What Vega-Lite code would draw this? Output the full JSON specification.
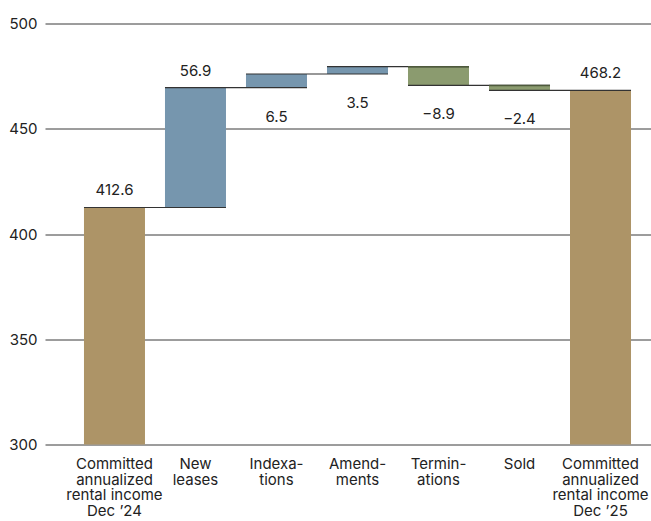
{
  "$schema": "https://vega.github.io/schema/vega-lite/v6.json",
  "width": 606,
  "height": 421,
  "autosize": {"type": "none"},
  "padding": {"left": 45, "top": 23.5, "right": 0, "bottom": 76.5},
  "background": "white",
  "config": {"view": {"stroke": null}, "font": "Inter"},
  "datasets": {
    "bars": [
      {"cat": "Committed|annualized|rental income|Dec ’24", "kind": "total", "lo": 0, "hi": 412.6, "label": "412.6"},
      {"cat": "New|leases", "kind": "up", "lo": 412.6, "hi": 469.5, "label": "56.9"},
      {"cat": "Indexa-|tions", "kind": "up", "lo": 469.5, "hi": 476.0, "label": "6.5"},
      {"cat": "Amend-|ments", "kind": "up", "lo": 476.0, "hi": 479.5, "label": "3.5"},
      {"cat": "Termin-|ations", "kind": "down", "lo": 470.6, "hi": 479.5, "label": "−8.9"},
      {"cat": "Sold", "kind": "down", "lo": 468.2, "hi": 470.6, "label": "−2.4"},
      {"cat": "Committed|annualized|rental income|Dec ’25", "kind": "total", "lo": 0, "hi": 468.2, "label": "468.2"}
    ],
    "links": [
      {"from": "Committed|annualized|rental income|Dec ’24", "to": "New|leases", "level": 412.6},
      {"from": "New|leases", "to": "Indexa-|tions", "level": 469.5},
      {"from": "Indexa-|tions", "to": "Amend-|ments", "level": 476.0},
      {"from": "Amend-|ments", "to": "Termin-|ations", "level": 479.5},
      {"from": "Termin-|ations", "to": "Sold", "level": 470.6},
      {"from": "Sold", "to": "Committed|annualized|rental income|Dec ’25", "level": 468.2}
    ]
  },
  "encoding": {
    "x": {
      "field": "cat",
      "type": "nominal",
      "scale": {
        "domain": [
          "Committed|annualized|rental income|Dec ’24",
          "New|leases",
          "Indexa-|tions",
          "Amend-|ments",
          "Termin-|ations",
          "Sold",
          "Committed|annualized|rental income|Dec ’25"
        ],
        "paddingInner": 0.2469,
        "paddingOuter": 0.364,
        "align": 0.661,
        "round": false
      },
      "axis": {
        "title": null,
        "domain": false,
        "ticks": false,
        "labelAngle": 0,
        "labelAlign": "center",
        "labelBaseline": "top",
        "labelExpr": "split(datum.label, '|')",
        "labelFontSize": 15,
        "labelLineHeight": 15.5,
        "labelPadding": 12,
        "labelColor": "#222222",
        "labelLimit": 0
      }
    }
  },
  "layer": [
    {
      "data": {"name": "bars"},
      "mark": {"type": "bar", "clip": true},
      "encoding": {
        "y": {
          "field": "hi",
          "type": "quantitative",
          "scale": {"domain": [300, 500], "nice": false, "zero": false},
          "axis": {
            "title": null,
            "values": [300, 350, 400, 450, 500],
            "domain": false,
            "ticks": false,
            "grid": true,
            "gridColor": "#3a3a3a",
            "gridWidth": 1,
            "gridOpacity": 1,
            "labelFontSize": 15,
            "labelColor": "#222222",
            "labelPadding": 8
          }
        },
        "y2": {"field": "lo"},
        "color": {
          "field": "kind",
          "type": "nominal",
          "scale": {"domain": ["total", "up", "down"], "range": ["#AD9467", "#7696AE", "#8B9B6F"]},
          "legend": null
        }
      }
    },
    {
      "data": {"name": "links"},
      "mark": {"type": "rule", "color": "#333333", "strokeWidth": 1.2},
      "encoding": {
        "x": {"field": "from", "type": "nominal", "bandPosition": 0},
        "x2": {"field": "to", "bandPosition": 1},
        "y": {"field": "level", "type": "quantitative"}
      }
    },
    {
      "data": {"name": "bars"},
      "transform": [{"filter": "datum.kind == 'down'"}],
      "mark": {"type": "rule", "color": "#4E5A3C", "strokeWidth": 1.5},
      "encoding": {
        "x": {"field": "cat", "type": "nominal", "bandPosition": 0},
        "x2": {"field": "cat", "bandPosition": 1},
        "y": {"field": "hi", "type": "quantitative"}
      }
    },
    {
      "data": {"name": "bars"},
      "transform": [{"filter": "datum.hi - datum.lo > 20"}],
      "mark": {"type": "text", "fontSize": 15, "color": "#222222", "baseline": "middle", "dy": -17},
      "encoding": {
        "y": {"field": "hi", "type": "quantitative"},
        "text": {"field": "label"}
      }
    },
    {
      "data": {"name": "bars"},
      "transform": [{"filter": "datum.hi - datum.lo <= 20"}],
      "mark": {"type": "text", "fontSize": 15, "color": "#222222", "baseline": "middle", "dy": 29},
      "encoding": {
        "y": {"field": "lo", "type": "quantitative"},
        "text": {"field": "label"}
      }
    }
  ]
}
